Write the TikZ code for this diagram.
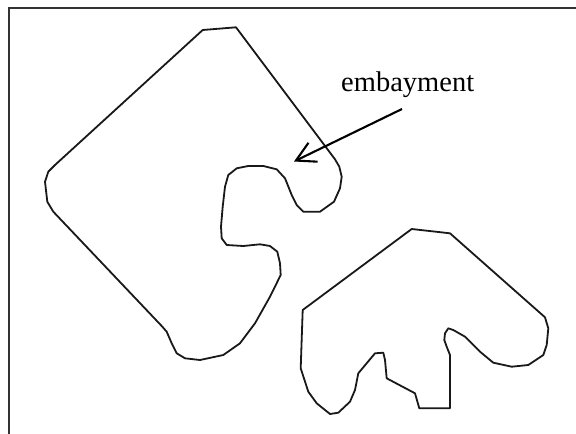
\documentclass[tikz,border=0pt]{standalone}
\usepackage{fontspec}
\setmainfont{Liberation Serif}
\usetikzlibrary{arrows.meta}
\begin{document}
\begin{tikzpicture}[x=1pt,y=-1pt,
  outline/.style={draw=black!90,line width=1.8pt,line join=round},
  frameline/.style={draw=black!80,line width=1.8pt},
  pointer/.style={draw=black,line width=2.1pt,-{Straight Barb[length=19pt,width=21pt,line width=2.1pt]}},
  label/.style={font=\fontsize{28.5}{30}\selectfont,inner sep=0pt,anchor=base west}]
\useasboundingbox (0,0) rectangle (576,434);
% frame
\coordinate (ftl) at (9,8);
\coordinate (ftr) at (576,8);
\coordinate (fbl) at (9,434);
\draw[frameline] (fbl) -- (ftl) -- (ftr);
% big shape
\draw[outline] (202.7,30) -- (236,27.3) -- (335,159.3) -- (339.3,166.7) -- (341.7,176.7) -- (340,188.3) -- (334,201.7) -- (320,211.7) -- (303.3,211.7) -- (296.7,205) -- (291.7,195) -- (285,178.3) -- (276.7,169.3) -- (263.3,166) -- (248.3,166) -- (236.7,168.3) -- (228.3,175) -- (225,186.7) -- (222.7,206.7) -- (221,226.7) -- (221.7,238.3) -- (226.7,245) -- (243.3,246) -- (260,244.3) -- (270,246) -- (277.3,251.7) -- (280,263.3) -- (280.7,275) -- (270,296.7) -- (255,323.3) -- (240,343.3) -- (223.3,355) -- (200,360) -- (185,358.3) -- (176.7,353.3) -- (171.7,343.3) -- (166.7,331.7) -- (161.7,326) -- (53.3,211.7) -- (47.3,201.7) -- (45,181.7) -- (48.3,171.7) -- (55,165) -- cycle;
% small shape
\draw[outline] (302.7,310) -- (411.7,229) -- (450,233.3) -- (545,317.3) -- (548.3,328.3) -- (546.7,345) -- (543.3,355) -- (528.3,365) -- (511.7,366.7) -- (493.3,362.7) -- (480,351.7) -- (465,336.7) -- (453.3,330) -- (448.3,328.3) -- (445,333.3) -- (444.3,340) -- (446.7,346.7) -- (450,355) -- (450,408.3) -- (419.3,408.3) -- (415,393.3) -- (386.7,378.3) -- (385,360) -- (383.3,352.7) -- (375,353.3) -- (358.3,373.3) -- (355,390) -- (350,401.7) -- (338.3,412.7) -- (330,414) -- (316.7,403.3) -- (308.3,391.7) -- (300.7,368.3) -- cycle;
% label and arrow
\node[label] (emb) at (341,91) {embayment};
\coordinate (tail) at (402,109);
\coordinate (tip) at (294,161.5);
\draw[pointer] (tail) -- (tip);
\end{tikzpicture}
\end{document}
